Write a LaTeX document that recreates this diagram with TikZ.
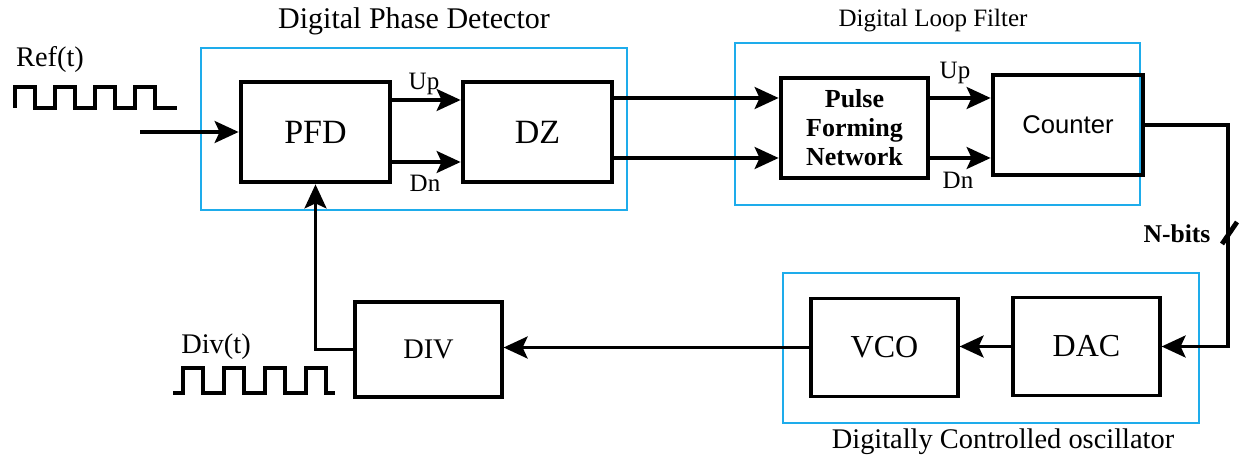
\documentclass[tikz,border=0pt]{standalone}
\usepackage{fontspec}
\setmainfont{Liberation Serif}
\setsansfont{Liberation Sans}
\usetikzlibrary{arrows.meta}

\definecolor{grpblue}{RGB}{30,172,235}

\tikzset{
  blockthick/.style={draw, line width=2.4pt, minimum width=74.5pt, minimum height=50pt, inner sep=0pt},
  blockthin/.style={draw, line width=1.6pt, minimum width=73.5pt, minimum height=49pt, inner sep=0pt},
  grp/.style={draw=grpblue, line width=0.6pt},
  conn/.style={line width=1.6pt, -{Stealth[length=12pt,width=11pt,inset=2.5pt]}},
  wave/.style={line width=1.8pt, line join=miter},
  big/.style={font=\fontsize{17}{19}\selectfont},
  mid/.style={font=\fontsize{12.5}{14}\selectfont},
  lbl/.style={font=\fontsize{14.2}{16}\selectfont},
}

\begin{document}
\begin{tikzpicture}[x=0.5pt,y=-0.5pt]
\useasboundingbox (0,0) rectangle (1240,459);

% Group frames
\draw[grp] (201,48) rectangle (627,210);
\draw[grp] (735,43) rectangle (1140,205);
\draw[grp] (783,273) rectangle (1199,423);
\node[font=\fontsize{15}{17}\selectfont] (tpd) at (414,21) {Digital Phase Detector};
\node[mid] (tlf) at (933,21) {Digital Loop Filter};
\node[lbl] (tdco) at (1003,442) {Digitally Controlled oscillator};

% Blocks
\node[blockthick, big] (pfd) at (315.5,132) {PFD\hspace{10pt}};
\node[blockthick, big] (dz) at (537.5,132) {DZ\hspace{10pt}};
\node[blockthick, minimum width=73.5pt, align=center,
      font=\fontsize{13}{14.5}\selectfont\bfseries] (pfn) at (854.5,128) {Pulse\\Forming\\Network};
\node[blockthick, minimum width=75pt, font=\fontsize{12.8}{14}\sffamily] (cnt) at (1068,125) {Counter};
\node[blockthin, font=\fontsize{16}{18}\selectfont] (vco) at (884.5,347.5) {VCO\hspace{8pt}};
\node[blockthin, font=\fontsize{16}{18}\selectfont] (dac) at (1086.5,346.5) {DAC\hspace{4pt}};
\node[blockthin, minimum height=47.5pt, lbl] (div) at (428.5,349.5) {DIV\hspace{12pt}};

% Row helpers
\coordinate (refin) at (140,132);
\coordinate (uprow) at (0,98);
\coordinate (dnrow) at (0,158);
\coordinate (turn) at (1228,0);
\coordinate (nb) at (1229,233);

% Reference input
\node[lbl] (reflbl) at (50,60) {Ref(t)};
\draw[wave] (15,108) \foreach \x in {15,55,95,135} { -- (\x,108) -- (\x,87) -- (\x+20,87) -- (\x+20,108)} -- (177,108);
\draw[conn] (refin) -- (pfd.west);

% Phase detector outputs
\draw[conn] ([yshift=16pt]pfd.east) -- ([yshift=16pt]dz.west);
\draw[conn] ([yshift=-15pt]pfd.east) -- ([yshift=-15pt]dz.west);
\node[mid] (up1) at (424,84) {Up};
\node[mid] (dn1) at (425,183) {Dn};

% DZ to loop filter
\draw[conn] (dz.east |- uprow) -- (pfn.west |- uprow);
\draw[conn] (dz.east |- dnrow) -- (pfn.west |- dnrow);

\draw[conn] ([yshift=15pt]pfn.east) -- ([yshift=15pt]pfn.east -| cnt.west);
\draw[conn] ([yshift=-15pt]pfn.east) -- ([yshift=-15pt]pfn.east -| cnt.west);
\node[mid] (up2) at (955,73) {Up};
\node[mid] (dn2) at (958,180) {Dn};

% Counter to DAC
\draw[conn] (cnt.east) -- (cnt.east -| turn) -- (dac.east -| turn) -- (dac.east);
\draw[line width=2.4pt] ([shift={(-7,11)}]nb) -- ([shift={(8,-11)}]nb);
\node[font=\fontsize{12.8}{14}\selectfont\bfseries] (nbits) at (1177,234) {N-bits};

% Oscillator and feedback
\draw[conn] (dac.west) -- (dac.west -| vco.east);
\draw[conn] (vco.west) -- (vco.west -| div.east);
\draw[conn] (div.west) -| (pfd.south);

\node[lbl] (divlbl) at (216,347) {Div(t)};
\draw[wave] (173,393) \foreach \x in {183,224,265,306} { -- (\x,393) -- (\x,368) -- (\x+20,368) -- (\x+20,393)} -- (335,393);
\end{tikzpicture}
\end{document}
